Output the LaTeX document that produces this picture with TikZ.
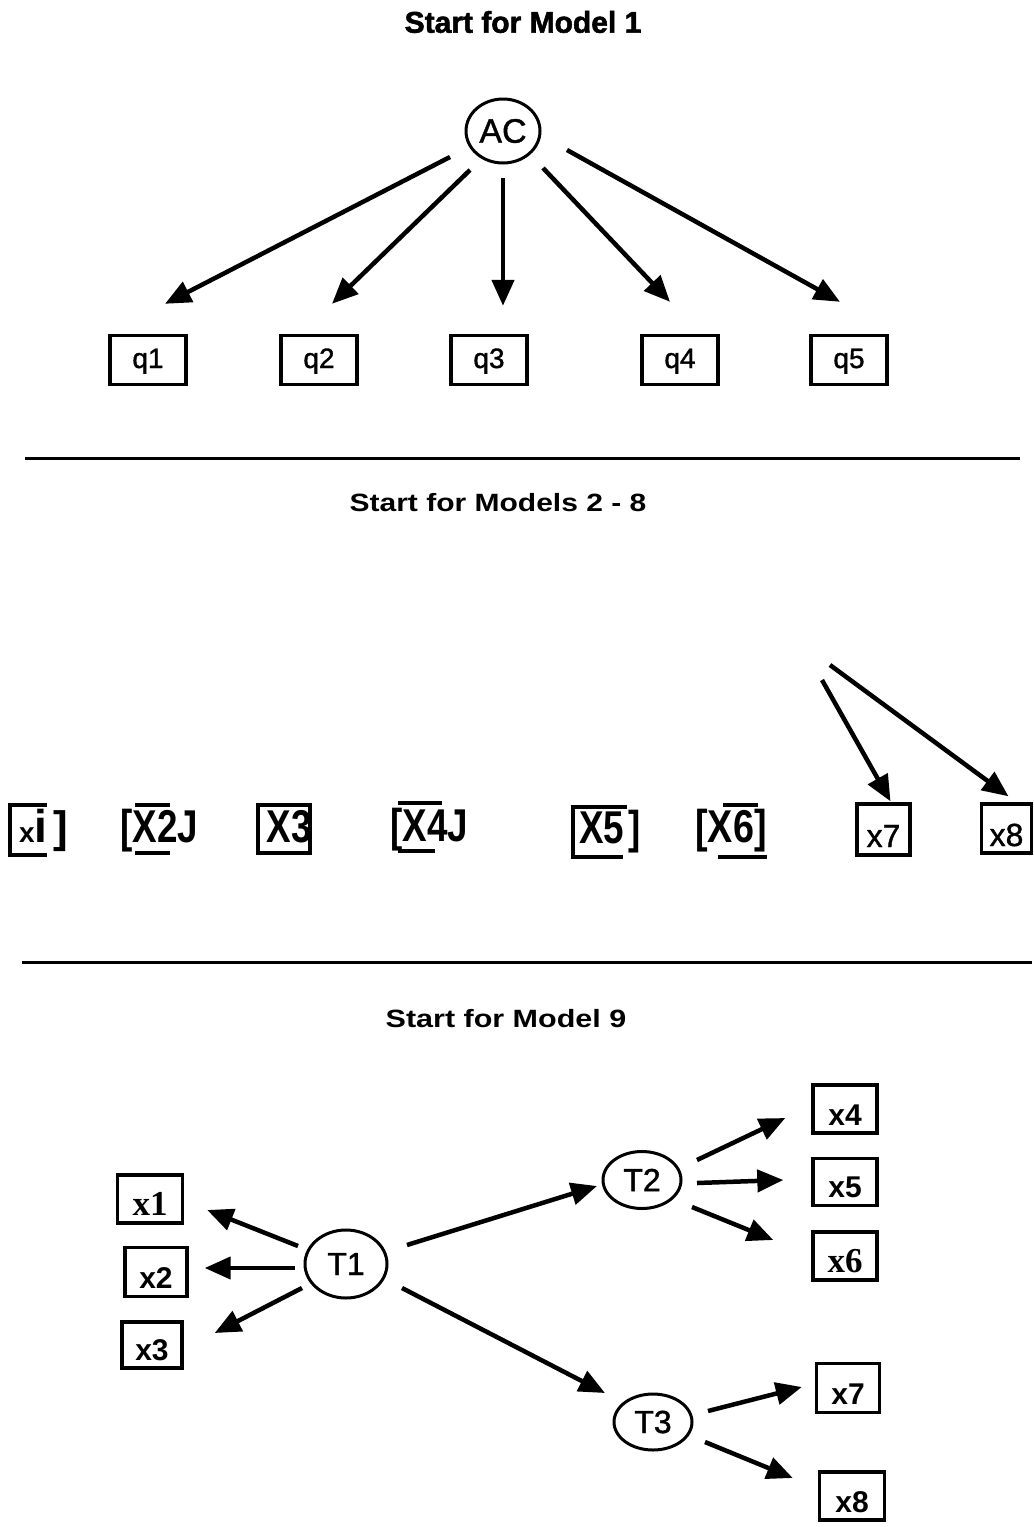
\documentclass[tikz,border=0pt]{standalone}
\usepackage{fontspec}
\setmainfont{Liberation Sans}
\newfontfamily\tnr{Liberation Serif}
\newfontfamily\medium[FakeBold=1.2]{Liberation Sans}
\newfontfamily\heavy[BoldFeatures={FakeBold=1.8}]{Liberation Sans}
\usetikzlibrary{arrows.meta,shapes.geometric}
\newcommand\fsz[1]{\fontsize{#1}{#1}\selectfont}
\begin{document}
\begin{tikzpicture}[x=1pt,y=1pt,
  arr/.style={line width=4.5pt,-{Triangle[length=26pt,width=22pt]}},
  sep/.style={line width=3pt},
  side/.style={line width=3.4pt},
  qbox/.style={draw,line width=3.4pt,minimum width=76pt,minimum height=49pt,inner sep=0pt,font=\fsz{28}\medium,text height=22pt,text depth=6pt},
  lat/.style={draw,ellipse,line width=3pt,inner sep=0pt,font=\fsz{32}\medium},
  xbox/.style={draw,line width=3.4pt,minimum width=64pt,minimum height=48pt,inner sep=0pt,text height=32pt,text depth=0pt},
  sb/.style={font=\fsz{30}\bfseries},
  tb/.style={font=\fsz{35}\tnr\bfseries},
  mid/.style={anchor=base,inner sep=0pt,font=\fsz{46}\bfseries},
  mbox/.style={draw,line width=3.4pt,inner sep=0pt,text height=35pt,text depth=0pt,font=\fsz{32}\medium},
  ttl/.style={inner sep=0pt,font=\bfseries}
]
\useasboundingbox (0,0) rectangle (1034,-1527);
\fill[white] (0,0) rectangle (1034,-1527);

% ---------- Model 1 ----------
\node[ttl,font=\fsz{30}\heavy\bfseries] (h1) at (523,-22) {Start for Model 1};
\node[lat,minimum width=74pt,minimum height=64pt,font=\fsz{34}\medium] (AC) at (503,-131) {AC};
\node[qbox] (q1) at (148,-360) {q1};
\node[qbox] (q2) at (319,-360) {q2};
\node[qbox] (q3) at (489,-360) {q3};
\node[qbox] (q4) at (680,-360) {q4};
\node[qbox] (q5) at (849,-360) {q5};
\draw[arr] ([xshift=-53pt,yshift=-26pt]AC.center) -- ([xshift=17pt,yshift=30pt]q1.north);
\draw[arr] ([xshift=-33pt,yshift=-39pt]AC.center) -- ([xshift=13pt,yshift=30pt]q2.north);
\draw[arr] ([xshift=0pt,yshift=-47pt]AC.center) -- ([xshift=14pt,yshift=28pt]q3.north);
\draw[arr] ([xshift=40pt,yshift=-37pt]AC.center) -- ([xshift=-10pt,yshift=32pt]q4.north);
\draw[arr] ([xshift=64pt,yshift=-19pt]AC.center) -- ([xshift=-9pt,yshift=32pt]q5.north);

\draw[sep] (25,-458) -- (1020,-458);

% ---------- Models 2-8 ----------
\node[ttl,font=\fsz{25}\bfseries] (h2) at (498,-503) {\scalebox{1.2}[1]{Start for Models 2 - 8}};

% item 1
\draw[side] (47,-805) -- (10,-805) -- (10,-855) -- (47,-855);
\node[mid,anchor=base west] (m1) at (19,-842) {{\fsz{28}x}{\fsz{46}i}\hspace{6pt}{\fsz{44}]}};
% item 2
\draw[side] (135,-805) -- (170,-805);
\draw[side] (135,-853) -- (170,-853);
\node[mid] (m2) at (159.5,-842) {\scalebox{0.8}[1]{[X2J}};
% item 3
\node[mbox,minimum width=52pt,minimum height=48pt,text height=0pt] (m3box) at (284,-829) {};
\node[mid] (m3) at (289.5,-842) {\scalebox{0.8}[1]{X3}};
% item 4
\draw[side] (398,-803) -- (442,-803);
\draw[side] (398,-851) -- (435,-851);
\node[mid] (m4) at (429.5,-841) {\scalebox{0.8}[1]{[X4J}};
% item 5
\draw[side] (627,-807) -- (573,-807) -- (573,-857) -- (623,-857);
\node[mid] (m5) at (610,-843) {\scalebox{0.8}[1]{X5\hspace{5pt}]}};
% item 6
\draw[side] (723,-805) -- (758,-805);
\draw[side] (718,-857) -- (767,-857);
\node[mid] (m6) at (731,-842) {\scalebox{0.82}[1]{[X6]}};
% items 7, 8
\node[mbox,minimum width=53pt,minimum height=51pt] (m7) at (883.5,-829.5) {x7};
\node[mbox,minimum width=50pt,minimum height=49pt] (m8) at (1006.5,-828.5) {x8};
\coordinate (s7) at (822,-680);
\coordinate (s8) at (830,-665);
\draw[arr] (s7) -- ([xshift=7pt,yshift=1pt]m7.north);
\draw[arr] (s8) -- ([xshift=2pt,yshift=6pt]m8.north);

\draw[sep] (22,-962) -- (1032,-962);

% ---------- Model 9 ----------
\node[ttl,font=\fsz{25}\bfseries] (h3) at (506,-1019) {\scalebox{1.22}[1]{Start for Model 9}};
\node[lat,minimum width=82pt,minimum height=68pt] (T1) at (346,-1264) {T1};
\node[lat,minimum width=78pt,minimum height=57pt] (T2) at (642,-1180) {T2};
\node[lat,minimum width=78pt,minimum height=56pt] (T3) at (653,-1422) {T3};
\node[xbox,tb,minimum width=65pt] (x1) at (150,-1199) {x1};
\node[xbox,sb,minimum width=62pt,minimum height=49pt] (x2) at (156,-1272) {x2};
\node[xbox,sb,minimum width=60pt,minimum height=46pt,text height=30pt] (x3) at (152,-1345) {x3};
\node[xbox,sb] (x4) at (845,-1109) {x4};
\node[xbox,sb,minimum height=47pt,text height=30pt] (x5) at (845,-1182) {x5};
\node[xbox,tb] (x6) at (845,-1256) {x6};
\node[xbox,sb,minimum width=63pt,minimum height=49pt] (x7) at (848,-1388) {x7};
\node[xbox,sb,minimum width=65pt] (x8) at (852,-1496) {x8};

\draw[arr] ([xshift=-48pt,yshift=18pt]T1.center) -- ([xshift=23pt,yshift=-11pt]x1.east);
\draw[arr] ([xshift=-51pt,yshift=-4pt]T1.center) -- ([xshift=16pt,yshift=4pt]x2.east);
\draw[arr] ([xshift=-44pt,yshift=-24pt]T1.center) -- ([xshift=31pt,yshift=12pt]x3.east);
\draw[arr] ([xshift=61pt,yshift=19pt]T1.center) -- ([xshift=-45pt,yshift=-6pt]T2.center);
\draw[arr] ([xshift=56pt,yshift=-24pt]T1.center) -- ([xshift=-48pt,yshift=29pt]T3.center);
\draw[arr] ([xshift=55pt,yshift=20pt]T2.center) -- ([xshift=-26pt,yshift=-9pt]x4.west);
\draw[arr] ([xshift=55pt,yshift=-3pt]T2.center) -- ([xshift=-28pt,yshift=2pt]x5.west);
\draw[arr] ([xshift=50pt,yshift=-27pt]T2.center) -- ([xshift=-38pt,yshift=16pt]x6.west);
\draw[arr] ([xshift=55pt,yshift=11pt]T3.center) -- ([xshift=-13pt,yshift=1pt]x7.west);
\draw[arr] ([xshift=52pt,yshift=-20pt]T3.center) -- ([xshift=-25pt,yshift=18pt]x8.west);
\end{tikzpicture}
\end{document}
